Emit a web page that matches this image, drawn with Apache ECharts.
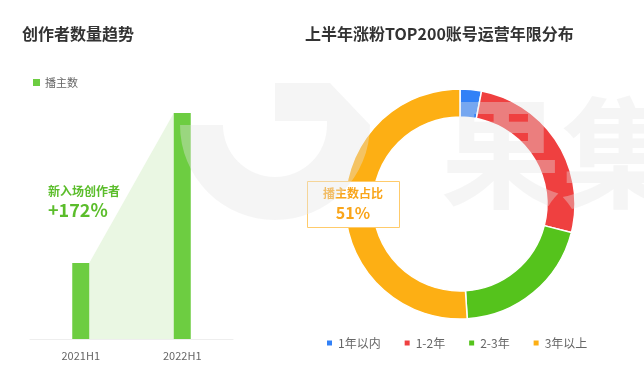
<!DOCTYPE html>
<html><head><meta charset="utf-8">
<script src="https://cdn.jsdelivr.net/npm/echarts@6/dist/echarts.min.js"></script>
<style>html,body{margin:0;padding:0;background:#fff}#c{width:644px;height:370px}</style>
</head><body><div id="c"></div>
<script>
// ---- data ----
const barCategories = ['2021H1', '2022H1'];
const barValues = [100, 297];
const barSeriesName = '播主数';
const growthLabel = '新入场创作者';
const growthValue = '+172%';
const pieNames = ['1年以内', '1-2年', '2-3年', '3年以上'];
const pieValues = [3, 26, 20, 51];
const leftTitle = '创作者数量趋势';
const rightTitle = '上半年涨粉TOP200账号运营年限分布';
const calloutLabel = '播主数占比';
const calloutIndex = 3;
const watermarkText = '果集';

// ---- styles ----
const FONT = "'Noto Sans CJK SC', 'Noto Sans', sans-serif";
const pieColors = ['#3281f7', '#ef4040', '#55c31c', '#fdaf14'];
const barColor = '#6dcd41';
const areaColor = '#eaf7e3';
const greenText = '#5bbd2b';
const orangeText = '#f9a51a';
const BAR_W = 17;
const WM = {fill: '#e4e4e4', opacity: 0.38};

const chart = echarts.init(document.getElementById('c'), null, {renderer: 'canvas'});
chart.setOption({
  animation: false,
  backgroundColor: '#fff',
  textStyle: {fontFamily: FONT},
  title: [
    {text: leftTitle, left: 22, top: 26, padding: 0,
     textStyle: {fontSize: 16, fontWeight: 'bold', color: '#333', fontFamily: FONT}},
    {text: rightTitle, left: 305, top: 26, padding: 0,
     textStyle: {fontSize: 16, fontWeight: 'bold', color: '#333', fontFamily: FONT}}
  ],
  legend: [
    {data: [barSeriesName], left: 33, top: 77, padding: 0, icon: 'rect',
     itemWidth: 7, itemHeight: 7, itemGap: 5, selectedMode: false,
     textStyle: {fontSize: 11, color: '#666', fontFamily: FONT}},
    {data: pieNames, left: 325, top: 337, padding: 0, icon: 'rect',
     itemWidth: 7, itemHeight: 7, itemGap: 22, selectedMode: false,
     textStyle: {fontSize: 12, color: '#666', fontFamily: FONT}}
  ],
  grid: {left: 30, right: 411, top: 113, bottom: 31, containLabel: false},
  xAxis: {
    type: 'category', data: barCategories,
    axisLine: {lineStyle: {color: '#eeeeee', width: 1}},
    axisTick: {show: false},
    axisLabel: {color: '#666', fontSize: 11, margin: 11, fontFamily: FONT}
  },
  yAxis: {type: 'value', show: false, min: 0, max: Math.max(...barValues), splitLine: {show: false}},
  series: [
    {
      type: 'custom', name: 'trend', silent: true, z: 1,
      data: [[0, barValues[0], barValues[1]]],
      encode: {x: 0, y: 1},
      renderItem: function (params, api) {
        const a = api.coord([0, api.value(1)]);
        const b = api.coord([1, api.value(2)]);
        const base = api.coord([0, 0])[1];
        const hw = BAR_W / 2;
        return {
          type: 'polygon',
          shape: {points: [[a[0] + hw, base], [a[0] + hw, a[1]], [b[0] - hw, b[1]], [b[0] - hw, base]]},
          style: {fill: areaColor}
        };
      }
    },
    {
      type: 'bar', name: barSeriesName, data: barValues, barWidth: BAR_W, z: 2,
      itemStyle: {color: barColor}, silent: true
    },
    {
      type: 'pie', name: 'years', center: [460, 204], radius: [87, 115],
      startAngle: 90, clockwise: true, silent: true,
      label: {show: false}, labelLine: {show: false},
      itemStyle: {borderColor: '#fff', borderWidth: 1.5},
      data: pieNames.map((n, i) => ({name: n, value: pieValues[i], itemStyle: {color: pieColors[i]}}))
    }
  ],
  color: pieColors,
  graphic: [
    {type: 'text', left: 48, top: 185, z: 20,
     style: {text: growthLabel, fontSize: 12, fontWeight: 'bold', fill: greenText, fontFamily: FONT}},
    {type: 'text', left: 48, top: 201, z: 20,
     style: {text: growthValue, fontSize: 18, fontWeight: 'bold', fill: greenText, fontFamily: FONT}},
    {type: 'rect', z: 20, shape: {x: 307.5, y: 181.5, width: 92, height: 46},
     style: {fill: '#fff', stroke: '#ffcb6b', lineWidth: 1}},
    {type: 'text', z: 21, x: 353, y: 193,
     style: {text: calloutLabel, fontSize: 12, fontWeight: 'bold', fill: orangeText, fontFamily: FONT,
             textAlign: 'center', textVerticalAlign: 'middle'}},
    {type: 'text', z: 21, x: 353, y: 213,
     style: {text: pieValues[calloutIndex] + '%', fontSize: 16, fontWeight: 'bold', fill: orangeText, fontFamily: FONT,
             textAlign: 'center', textVerticalAlign: 'middle'}},
    // watermark
    {type: 'sector', z: 100, silent: true,
     shape: {cx: 275, cy: 125, r: 95, r0: 52, startAngle: 0, endAngle: Math.PI, clockwise: true},
     style: WM},
    {type: 'polygon', z: 100, silent: true,
     shape: {points: [[275, 83], [330, 83], [370, 125], [327, 125], [327, 121], [275, 121]]},
     style: WM},
    {type: 'text', z: 100, silent: true, left: 441, top: 93,
     style: Object.assign({text: watermarkText, fontSize: 120, fontWeight: 'bold', fontFamily: FONT}, WM)}
  ]
});
</script>
</body></html>
